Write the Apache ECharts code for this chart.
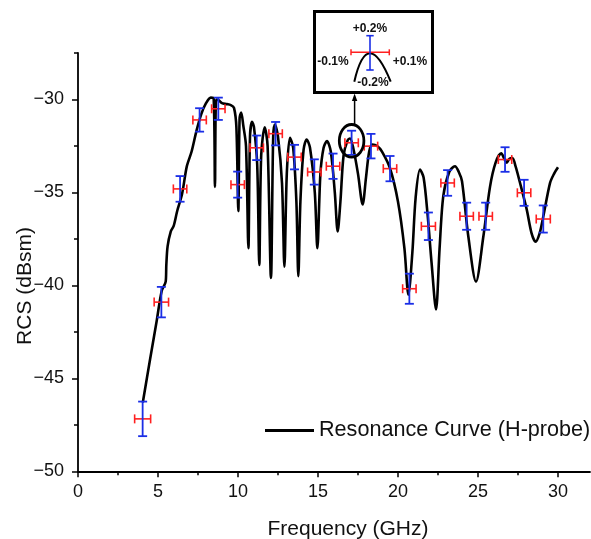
<!DOCTYPE html>
<html><head><meta charset="utf-8">
<script src="https://cdn.jsdelivr.net/npm/echarts@6/dist/echarts.min.js"></script>
<style>html,body{margin:0;padding:0;background:#fff}#c{width:591px;height:539px}</style>
</head><body><div id="c"></div>
<script>
// Resonance curve (H-probe)
const curveFreq = [4.05,4.5,4.92,5.23,5.48,5.52,5.6,5.8,5.98,6.2,6.5,6.8,7.1,7.4,7.7,8.0,8.3,8.48,8.56,8.64,8.8,9.0,9.3,9.55,9.75,9.9,10.02,10.1,10.2,10.33,10.5,10.65,10.75,10.88,11.0,11.2,11.33,11.45,11.67,11.85,12.06,12.2,12.31,12.5,12.75,12.9,13.05,13.25,13.45,13.65,13.77,13.9,14.1,14.29,14.5,14.8,14.96,15.15,15.35,15.56,15.8,16.05,16.23,16.4,16.6,16.85,17.0,17.2,17.5,17.79,18.0,18.2,18.4,18.7,19.0,19.5,20.0,20.4,20.65,20.9,21.1,21.375,21.6,21.85,22.1,22.375,22.6,22.83,23.2,23.56,23.8,24.0,24.4,24.875,25.33,25.75,26.1,26.45,26.65,26.8,26.95,27.15,27.35,27.6,28.04,28.35,28.6,28.85,29.08,29.5,29.75,30.0];
const curveRCS  = [-46.3,-44.0,-41.9,-40.3,-39.8,-38.9,-37.9,-37.1,-36.8,-36.0,-35.1,-33.6,-32.8,-31.7,-30.8,-30.2,-29.9,-29.95,-34.7,-30.0,-30.05,-30.2,-30.25,-30.3,-30.45,-31.5,-36.0,-31.0,-30.7,-31.4,-32.5,-38.0,-32.0,-31.2,-31.5,-33.5,-38.9,-33.0,-31.5,-32.5,-39.6,-32.0,-31.35,-32.0,-34.5,-39.0,-34.0,-32.06,-32.6,-35.5,-39.5,-35.5,-32.7,-32.15,-32.6,-35.0,-38.0,-34.0,-32.6,-32.24,-32.8,-35.0,-37.1,-35.5,-33.0,-32.2,-32.1,-32.6,-34.0,-35.65,-34.2,-32.8,-32.42,-32.5,-32.8,-33.7,-35.5,-38.0,-40.5,-38.2,-35.3,-33.77,-34.2,-36.2,-38.8,-41.3,-38.0,-35.2,-33.9,-33.59,-33.9,-34.4,-37.4,-39.8,-37.4,-34.7,-33.4,-32.9,-33.2,-33.4,-33.2,-33.15,-33.6,-34.4,-35.9,-37.2,-37.65,-37.2,-36.3,-34.5,-34.0,-33.65];
// measured points with error bars
const measFreq = [4.04,5.21,6.38,7.6,8.77,9.98,11.17,12.35,13.53,14.77,15.94,17.1,18.31,19.5,20.71,21.9,23.1,24.29,25.48,26.69,27.88,29.08];
const measRCS  = [-47.18,-40.9,-34.81,-31.1,-30.5,-34.58,-32.6,-31.84,-33.1,-33.9,-33.59,-32.33,-32.51,-33.72,-40.18,-36.82,-34.49,-36.28,-36.28,-33.23,-35.02,-36.43];
const freqErr  = [0.5,0.45,0.42,0.42,0.42,0.42,0.42,0.42,0.42,0.42,0.42,0.42,0.42,0.42,0.42,0.44,0.42,0.42,0.42,0.42,0.42,0.44];
const rcsErr   = [0.93,0.82,0.69,0.63,0.6,0.7,0.66,0.63,0.66,0.68,0.68,0.65,0.66,0.68,0.81,0.74,0.69,0.73,0.73,0.66,0.7,0.73];
const xMajor = [0,5,10,15,20,25,30];
const xMinor = [2.5,7.5,12.5,17.5,22.5,27.5];
const yMajor = [-50,-45,-40,-35,-30];
const yMinor = [-47.5,-42.5,-37.5,-32.5,-27.5];
const seriesName = 'Resonance Curve (H-probe)';

const FONT = "'Liberation Sans', Arial, sans-serif";
const chart = echarts.init(document.getElementById('c'));
const curve = curveFreq.map((f, i) => [f, curveRCS[i]]);
const meas = measFreq.map((f, i) => [f, measRCS[i], freqErr[i], rcsErr[i]]);
const fmt = v => (v < 0 ? '\u2212' : '') + Math.abs(v);
const BLUE = '#1a2ee6', RED = '#ff2020';

function errItem(params, api) {
  const x = api.value(0), y = api.value(1), ex = api.value(2), ey = api.value(3);
  const top = api.coord([x, y + ey]), bot = api.coord([x, y - ey]);
  const l = api.coord([x - ex, y]), r = api.coord([x + ex, y]);
  const cw = 4.5, ch = 4.5;
  const ln = (x1, y1, x2, y2, c, w) => ({type: 'line', shape: {x1, y1, x2, y2}, style: {stroke: c, lineWidth: w}});
  return {type: 'group', children: [
    ln(l[0], l[1], r[0], r[1], RED, 1.6),
    ln(l[0], l[1] - ch, l[0], l[1] + ch, RED, 1.6),
    ln(r[0], r[1] - ch, r[0], r[1] + ch, RED, 1.6),
    ln(top[0], top[1], bot[0], bot[1], BLUE, 1.8),
    ln(top[0] - cw, top[1], top[0] + cw, top[1], BLUE, 1.8),
    ln(bot[0] - cw, bot[1], bot[0] + cw, bot[1], BLUE, 1.8)
  ]};
}

const axLine = {lineStyle: {color: '#000', width: 1.8}};
chart.setOption({
  animation: false,
  grid: {left: 78, right: 1, top: 53, bottom: 67.7, containLabel: false},
  xAxis: [
    {type: 'value', min: 0, max: 32, interval: 5, position: 'bottom',
     axisLine: axLine, splitLine: {show: false},
     axisTick: {show: true, length: 6, customValues: xMajor, lineStyle: {color: '#000', width: 1.5}},
     axisLabel: {customValues: xMajor, fontSize: 18, color: '#111', margin: 12, fontFamily: FONT}},
    {type: 'value', min: 0, max: 32, position: 'bottom', axisLine: {show: false}, splitLine: {show: false},
     axisTick: {show: true, length: 4, customValues: xMinor, lineStyle: {color: '#000', width: 1.5}},
     axisLabel: {show: false}}
  ],
  yAxis: [
    {type: 'value', min: -50, max: -27.5, interval: 5, position: 'left',
     axisLine: {show: true, ...axLine}, splitLine: {show: false},
     axisTick: {show: true, length: 6, customValues: yMajor, lineStyle: {color: '#000', width: 1.5}},
     axisLabel: {customValues: yMajor, formatter: fmt, fontSize: 18, color: '#111', margin: 14, fontFamily: FONT}},
    {type: 'value', min: -50, max: -27.5, position: 'left', axisLine: {show: false}, splitLine: {show: false},
     axisTick: {show: true, length: 4, customValues: yMinor, lineStyle: {color: '#000', width: 1.5}},
     axisLabel: {show: false}}
  ],
  legend: {data: [{name: seriesName, icon: 'rect'}], left: 265, top: 419.5, padding: 0, itemWidth: 49, itemHeight: 3,
           selectedMode: false, textStyle: {fontSize: 21.6, color: '#111', fontFamily: FONT}},
  series: [
    {name: seriesName, type: 'line', data: curve, showSymbol: false, symbol: 'none', smooth: 0.3,
     lineStyle: {color: '#000', width: 2.6}, itemStyle: {color: '#000'}, z: 3},
    {type: 'custom', data: meas, renderItem: errItem, encode: {x: 0, y: 1}, z: 5}
  ]
});

const p = chart.convertToPixel({xAxisIndex: 0, yAxisIndex: 0}, [measFreq[11], measRCS[11]]);
const cx = p[0], cy = p[1] - 2, rx = 12.3, ry = 16.3;
const txt = (s, x, y, font, extra) => Object.assign({type: 'text', x, y, z: 102,
  style: {text: s, font, fill: '#111', align: 'center', verticalAlign: 'middle', textAlign: 'center', textVerticalAlign: 'middle'}}, extra || {});
const gl = (x1, y1, x2, y2, c, w) => ({type: 'line', z: 101, shape: {x1, y1, x2, y2}, style: {stroke: c, lineWidth: w}});
const small = 'bold 12px ' + FONT;
chart.setOption({graphic: [
  {type: 'rect', z: 100, shape: {x: 314.5, y: 11.5, width: 118, height: 81}, style: {fill: '#fff', stroke: '#000', lineWidth: 3}},
  txt('+0.2%', 370, 29, small), txt('-0.1%', 333, 62, small), txt('+0.1%', 410, 62, small), txt('-0.2%', 373, 83, small),
  {type: 'bezierCurve', z: 101, shape: {x1: 354.3, y1: 81.7, x2: 390.7, y2: 81.7, cpx1: 367.5, cpy1: 24.9}, style: {stroke: '#000', lineWidth: 2, fill: null}},
  gl(351, 52.3, 389.3, 52.3, RED, 1.5), gl(351, 49.3, 351, 55.3, RED, 1.5), gl(389.3, 49.3, 389.3, 55.3, RED, 1.5),
  gl(370, 35.7, 370, 70, BLUE, 1.6), gl(366.3, 35.7, 373.7, 35.7, BLUE, 1.6), gl(366.3, 70, 373.7, 70, BLUE, 1.6),
  {type: 'ellipse', z: 101, shape: {cx, cy, rx, ry}, style: {fill: null, stroke: '#000', lineWidth: 2.8}},
  gl(cx + 3, cy - ry, cx + 3, 100, '#000', 1.5),
  {type: 'polygon', z: 101, shape: {points: [[cx + 3, 93.5], [cx + 0.3, 101], [cx + 5.7, 101]]}, style: {fill: '#000'}},
  txt('Frequency (GHz)', 348, 529.5, '21px ' + FONT),
  txt('RCS (dBsm)', 25, 286, '21px ' + FONT, {rotation: Math.PI / 2})
]});
</script></body></html>
